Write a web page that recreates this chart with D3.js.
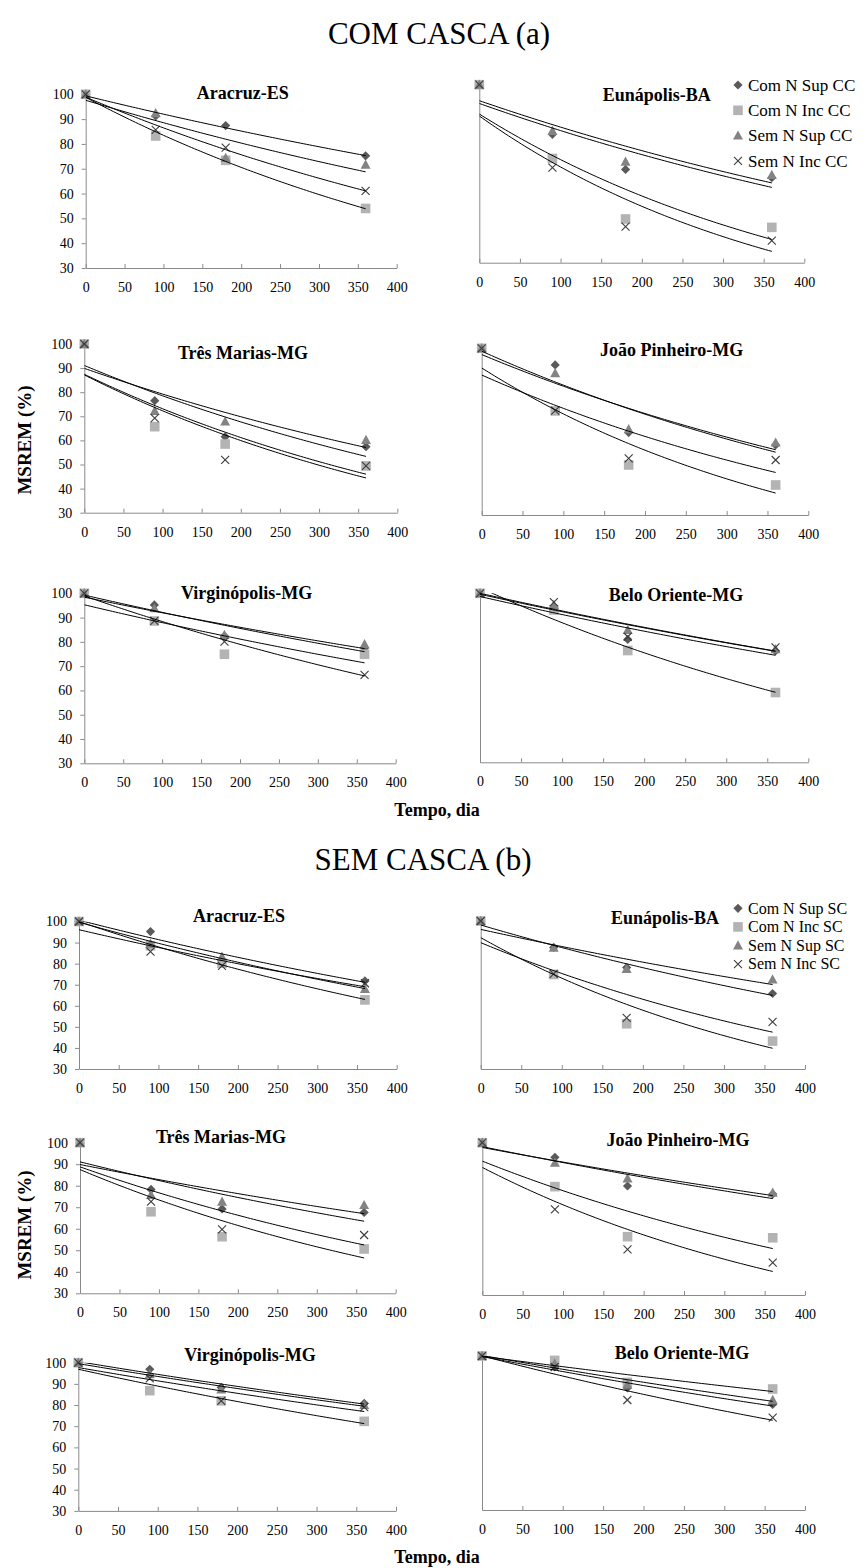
<!DOCTYPE html>
<html><head><meta charset="utf-8">
<script src="https://cdn.jsdelivr.net/npm/d3@7"></script>
<style>body{margin:0;background:#fff}svg{display:block}</style>
</head><body>
<script>
// Sampling days and axis ticks
const days = [0, 90, 180, 360];
const xTickValues = [0, 50, 100, 150, 200, 250, 300, 350, 400];
const yTickValues = [30, 40, 50, 60, 70, 80, 90, 100];
const seriesCC = ["Com N Sup CC", "Com N Inc CC", "Sem N Sup CC", "Sem N Inc CC"];
const seriesSC = ["Com N Sup SC", "Com N Inc SC", "Sem N Sup SC", "Sem N Inc SC"];

// MSREM (%) at 0, 90, 180 and 360 days; rows: Com N Sup, Com N Inc, Sem N Sup, Sem N Inc
const ccAracruz      = [[100, 91.3, 87.4, 75.2], [100, 83.2, 73.4, 54.0], [100, 92.4, 74.3, 71.6], [100, 85.7, 78.5, 61.1]];
const ccEunapolis    = [[100, 80.5, 66.7, 63.4], [100, 71.0, 47.2, 43.9], [100, 81.8, 69.7, 64.5], [100, 67.4, 44.2, 38.7]];
const ccTresMarias   = [[100, 76.5, 61.5, 57.4], [100, 65.7, 58.5, 49.4], [100, 72.2, 67.8, 60.2], [100, 69.2, 51.9, 49.4]];
const ccJoaoPinheiro = [[100, 93.0, 64.6, 59.4], [100, 73.7, 51.0, 42.6], [100, 89.5, 66.0, 60.4], [100, 73.8, 53.8, 53.1]];
const ccVirginopolis = [[100, 95.2, 82.4, 77.5], [100, 88.6, 74.9, 74.9], [100, 93.8, 82.8, 79.0], [100, 88.6, 80.1, 66.4]];
const ccBeloOriente  = [[100, 93.8, 80.9, 76.1], [100, 93.1, 76.3, 58.9], [100, 95.2, 84.8, 76.8], [100, 96.3, 82.0, 77.6]];

const scAracruz      = [[100, 95.2, 81.8, 71.8], [100, 88.5, 80.2, 62.8], [100, 89.5, 83.3, 68.0], [100, 85.7, 78.9, 70.7]];
const scEunapolis    = [[100, 87.5, 78.0, 65.7], [100, 74.7, 51.4, 43.2], [100, 87.4, 77.3, 72.3], [100, 75.0, 54.2, 52.3]];
const scTresMarias   = [[100, 78.3, 69.2, 67.6], [100, 67.9, 56.3, 50.6], [100, 75.7, 72.6, 71.0], [100, 72.6, 59.7, 57.1]];
const scJoaoPinheiro = [[100, 93.3, 80.1, 76.4], [100, 79.8, 56.8, 56.3], [100, 90.8, 83.6, 77.0], [100, 69.4, 51.0, 44.9]];
const scVirginopolis = [[100, 96.9, 88.3, 80.8], [100, 86.8, 82.0, 72.3], [100, 94.6, 87.4, 80.0], [100, 92.6, 82.0, 79.0]];
const scBeloOriente  = [[100, 95.0, 85.5, 78.0], [100, 98.0, 88.0, 85.0], [100, 96.5, 87.0, 80.0], [100, 95.0, 80.0, 72.0]];

// Panel placement: x0/x1 = pixel of day 0/400, yTop/yBot = pixel of 100/30
const panels = [
  {title: "Aracruz-ES",       data: ccAracruz,      x0: 85.7,  x1: 396.7, yTop: 94.3,  yBot: 268,    left: true,  tx: 242.7, ty: 99},
  {title: "Eunápolis-BA",     data: ccEunapolis,    x0: 479.3, x1: 804.3, yTop: 84.7,  yBot: 262.7,  left: false, tx: 656.7, ty: 101},
  {title: "Três Marias-MG",   data: ccTresMarias,   x0: 84.3,  x1: 397.3, yTop: 344,   yBot: 512.7,  left: true,  tx: 243,   ty: 359},
  {title: "João Pinheiro-MG", data: ccJoaoPinheiro, x0: 481.7, x1: 808.3, yTop: 348.3, yBot: 515,    left: false, tx: 671.7, ty: 356},
  {title: "Virginópolis-MG",  data: ccVirginopolis, x0: 84.3,  x1: 395.7, yTop: 593.3, yBot: 763.3,  left: true,  tx: 246.7, ty: 599},
  {title: "Belo Oriente-MG",  data: ccBeloOriente,  x0: 480,   x1: 808.3, yTop: 593.3, yBot: 762.3,  left: false, tx: 676,   ty: 601},
  {title: "Aracruz-ES",       data: scAracruz,      x0: 79,    x1: 396.7, yTop: 921.5, yBot: 1069,   left: true,  tx: 239,   ty: 922},
  {title: "Eunápolis-BA",     data: scEunapolis,    x0: 480.7, x1: 805,   yTop: 921,   yBot: 1069,   left: false, tx: 665,   ty: 924},
  {title: "Três Marias-MG",   data: scTresMarias,   x0: 80,    x1: 395.7, yTop: 1142.7,yBot: 1293.3, left: true,  tx: 221,   ty: 1143},
  {title: "João Pinheiro-MG", data: scJoaoPinheiro, x0: 482.3, x1: 805,   yTop: 1142.7,yBot: 1295,   left: false, tx: 678,   ty: 1146},
  {title: "Virginópolis-MG",  data: scVirginopolis, x0: 78.3,  x1: 396,   yTop: 1362.7,yBot: 1510.9, left: true,  tx: 250,   ty: 1361},
  {title: "Belo Oriente-MG",  data: scBeloOriente,  x0: 482,   x1: 805,   yTop: 1356,  yBot: 1510,   left: false, tx: 682,   ty: 1359}
];

const W = 868, H = 1568;
const FONT = "'Liberation Serif','Times New Roman',serif";
const fills = ["#5a5a5a", "#b3b3b3", "#838383", "#3c3c3c"];
const axisColor = "#8a8a8a";

const svg = d3.select("body").append("svg").attr("width", W).attr("height", H)
  .attr("font-family", FONT);

// Excel-style exponential trend line: least squares of ln(y) against t
function expTrend(ts, ys) {
  const ly = ys.map(Math.log);
  const mt = d3.mean(ts), my = d3.mean(ly);
  let sxy = 0, sxx = 0;
  ts.forEach((t, i) => { sxy += (t - mt) * (ly[i] - my); sxx += (t - mt) ** 2; });
  const b = sxy / sxx, a = Math.exp(my - b * mt);
  return t => a * Math.exp(b * t);
}

function drawMarker(sel, k) {
  if (k === 0) sel.append("path").attr("d", "M0,-4.6L4.6,0L0,4.6L-4.6,0Z").attr("fill", fills[0]);
  else if (k === 1) sel.append("rect").attr("x", -4.8).attr("y", -4.8).attr("width", 9.6).attr("height", 9.6).attr("fill", fills[1]);
  else if (k === 2) sel.append("path").attr("d", "M0,-5.2L5,4L-5,4Z").attr("fill", fills[2]);
  else sel.append("path").attr("d", "M-4,-4L4,4M-4,4L4,-4").attr("stroke", fills[3]).attr("stroke-width", 1.1).attr("fill", "none");
}

panels.forEach((p, pi) => {
  const x = d3.scaleLinear().domain([0, 400]).range([p.x0, p.x1]);
  const y = d3.scaleLinear().domain([30, 100]).range([p.yBot, p.yTop]);
  const g = svg.append("g");

  const xAxis = d3.axisBottom(x).tickValues(xTickValues).tickSizeInner(-4).tickSizeOuter(0).tickPadding(14);
  const gx = g.append("g").attr("transform", `translate(0,${p.yBot})`).call(xAxis)
    .attr("font-family", FONT).attr("font-size", 14);
  gx.selectAll("text").attr("fill", "#000");

  const yAxis = d3.axisLeft(y).tickValues(yTickValues).tickSizeOuter(0)
    .tickSizeInner(p.left ? 4 : 0).tickPadding(p.left ? 8 : 0)
    .tickFormat(p.left ? d3.format("d") : () => "");
  const gy = g.append("g").attr("transform", `translate(${p.x0},0)`).call(yAxis)
    .attr("font-family", FONT).attr("font-size", 14);
  gy.selectAll("text").attr("fill", "#000");
  g.selectAll(".domain, .tick line").attr("stroke", axisColor);

  g.append("text").attr("x", p.tx).attr("y", p.ty).attr("text-anchor", "middle")
    .attr("font-size", 18).attr("font-weight", "bold").text(p.title);

  const clipId = "clip" + pi;
  svg.append("clipPath").attr("id", clipId).append("rect")
    .attr("x", p.x0).attr("y", p.yTop).attr("width", p.x1 - p.x0).attr("height", p.yBot - p.yTop);

  // markers
  p.data.forEach((vals, k) => {
    days.forEach((d, i) => {
      const m = g.append("g").attr("transform", `translate(${x(d)},${y(vals[i])})`);
      drawMarker(m, k);
    });
  });

  // exponential trend lines, clipped to the plot area
  p.data.forEach(vals => {
    const f = expTrend(days, vals);
    const pts = d3.range(0, 361, 4).map(t => [x(t), y(f(t))]);
    g.append("path").attr("d", d3.line()(pts)).attr("fill", "none")
      .attr("stroke", "#000").attr("stroke-width", 1).attr("clip-path", `url(#${clipId})`);
  });
});

// legends
function legend(names, x, y0, dy, fs) {
  names.forEach((n, k) => {
    const m = svg.append("g").attr("transform", `translate(${x},${y0 + k * dy})`);
    drawMarker(m, k);
    svg.append("text").attr("x", x + 10).attr("y", y0 + k * dy + fs * 0.33)
      .attr("font-size", fs).text(n);
  });
}
legend(seriesCC, 738, 85, 25.3, 17);
legend(seriesSC, 738, 908.3, 18.6, 16);

// section titles and shared axis labels
svg.append("text").attr("x", 439).attr("y", 44).attr("text-anchor", "middle").attr("font-size", 31).text("COM CASCA (a)");
svg.append("text").attr("x", 423).attr("y", 870).attr("text-anchor", "middle").attr("font-size", 31).text("SEM CASCA (b)");
svg.append("text").attr("x", 437).attr("y", 816).attr("text-anchor", "middle").attr("font-size", 18).attr("font-weight", "bold").text("Tempo, dia");
svg.append("text").attr("x", 437).attr("y", 1563).attr("text-anchor", "middle").attr("font-size", 18).attr("font-weight", "bold").text("Tempo, dia");
svg.append("text").attr("transform", "translate(31,440) rotate(-90)").attr("text-anchor", "middle").attr("font-size", 19).attr("font-weight", "bold").text("MSREM (%)");
svg.append("text").attr("transform", "translate(31,1225) rotate(-90)").attr("text-anchor", "middle").attr("font-size", 19).attr("font-weight", "bold").text("MSREM (%)");
</script>
</body></html>
